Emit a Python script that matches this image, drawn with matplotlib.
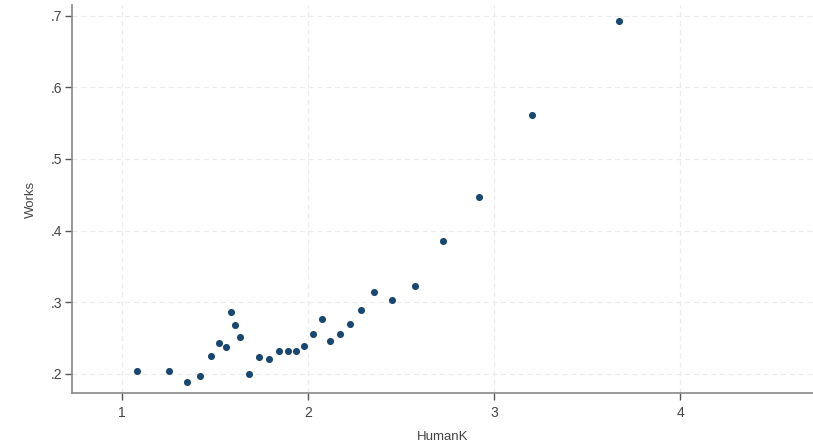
import matplotlib
matplotlib.use("Agg")
import matplotlib.pyplot as plt

humank = [1.079, 1.253, 1.351, 1.417, 1.476, 1.523, 1.559, 1.584, 1.605, 1.634,
          1.684, 1.739, 1.790, 1.842, 1.890, 1.934, 1.980, 2.028, 2.075, 2.120,
          2.172, 2.227, 2.283, 2.356, 2.450, 2.575, 2.727, 2.919, 3.204, 3.674]
works = [0.204, 0.204, 0.189, 0.197, 0.225, 0.243, 0.237, 0.286, 0.268, 0.251,
         0.199, 0.223, 0.220, 0.231, 0.231, 0.231, 0.238, 0.256, 0.277, 0.246,
         0.256, 0.270, 0.289, 0.314, 0.303, 0.322, 0.385, 0.447, 0.561, 0.693]

xticks = [1, 2, 3, 4]
xticklabels = ["1", "2", "3", "4"]
yticks = [0.2, 0.3, 0.4, 0.5, 0.6, 0.7]
yticklabels = [".2", ".3", ".4", ".5", ".6", ".7"]

plt.rcParams['font.family'] = ['Liberation Sans', 'DejaVu Sans']

fig = plt.figure(figsize=(8.13, 4.46), dpi=100)
ax = fig.add_axes([72/813, 1 - 393.3/446, 1 - 72/813, (393.3 - 5)/446])

ax.scatter(humank, works, s=26, color="#1a476f", zorder=3, linewidths=0)

ax.set_xlim(0.731, 4.715)
ax.set_ylim(0.1726, 0.715)
ax.set_xticks(xticks)
ax.set_xticklabels(xticklabels)
ax.set_yticks(yticks)
ax.set_yticklabels(yticklabels)

ax.grid(True, color="#ececec", linestyle=(0, (4, 3)), linewidth=0.9)
ax.set_axisbelow(True)

for s in ["top", "right"]:
    ax.spines[s].set_visible(False)
for s in ["left", "bottom"]:
    ax.spines[s].set_color("#888888")
    ax.spines[s].set_linewidth(1.2)

ax.tick_params(axis="both", colors="#555555", labelcolor="#444444", length=5,
               width=1, labelsize=10)
ax.tick_params(axis="x", pad=4)
ax.tick_params(axis="y", pad=2)

ax.set_xlabel("HumanK", fontsize=9.5, color="#444444", labelpad=8)
ax.set_ylabel("Works", fontsize=9.5, color="#444444", labelpad=10)

fig.savefig("out.png", dpi=100, facecolor="white")
